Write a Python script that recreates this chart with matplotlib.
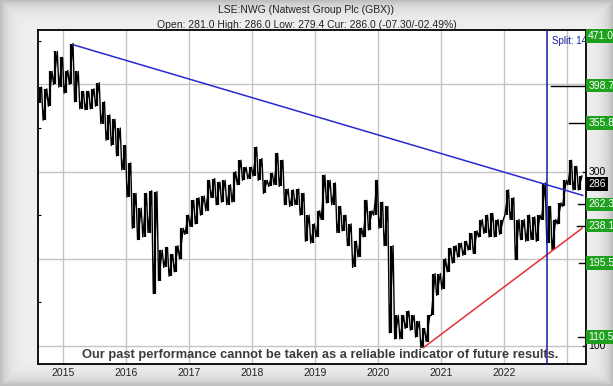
import numpy as np
import pandas as pd
import matplotlib
matplotlib.use("Agg")
import matplotlib.pyplot as plt

# monthly price range (GBX), Aug 2014 .. Mar 2023
months = pd.date_range("2014-08-01", periods=104, freq="MS")
lows = [379, 359, 375, 400, 397,
        390, 400, 380, 372, 371, 372, 375, 355, 336, 330, 318, 302,
        271, 235, 222, 225, 230, 160, 175, 190, 180, 185, 200, 228,
        237, 240, 250, 255, 270, 262, 265, 262, 265, 285, 290, 292,
        295, 290, 275, 283, 285, 283, 262, 260, 262, 250, 220, 218,
        225, 245, 264, 262, 230, 232, 215, 190, 202, 225, 233, 250,
        235, 215, 115, 108, 108, 120, 118, 110, 98, 105, 135, 158,
        165, 185, 195, 202, 204, 210, 206, 225, 229, 225, 225, 228,
        250, 245, 199, 222, 220, 222, 220, 245, 218, 210, 240, 260,
        285, 279, 279]
highs = [397, 395, 415, 438, 431,
         416, 447, 415, 392, 392, 395, 402, 380, 365, 360, 350, 330,
         310, 275, 258, 275, 278, 277, 210, 213, 205, 215, 235, 250,
         267, 270, 272, 290, 292, 288, 290, 285, 300, 313, 305, 305,
         328, 315, 290, 298, 321, 313, 280, 279, 280, 275, 250, 240,
         255, 296, 290, 287, 260, 250, 240, 220, 235, 267, 255, 290,
         265, 260, 215, 135, 135, 140, 135, 128, 120, 135, 183, 183,
         200, 212, 215, 218, 220, 229, 232, 245, 250, 252, 245, 245,
         279, 270, 245, 245, 250, 248, 250, 287, 260, 245, 264, 290,
         313, 306, 295]

# trend lines (decimal year, price)
blue_x = [2015.16, 2023.25]
blue_y = [445.5, 272.7]
red_x = [2020.72, 2023.24]
red_y = [98.0, 235.0]
split_x = 2022.68

# right hand price levels
green_levels = ["471.0", "398.7", "355.8", "262.3", "238.1", "195.5", "110.5"]
green_pos = [456.0, 398.7, 355.8, 262.3, 238.1, 195.5, 110.5]
tick_levels = [398.7, 355.8, 300, 262.3, 238.1, 195.5, 110.5, 100]
tick_start = [0.936, 0.969, 0.994, 0.985, 0.984, 0.987, 0.985, 0.994]

years = list(range(2015, 2024))
year_labels = [str(y) for y in years[:-1]] + [""]

W, H = 613, 386
fig = plt.figure(figsize=(W / 100, H / 100), dpi=100)

# grey frame with darker edges
bg = fig.add_axes([0, 0, 1, 1], zorder=-10)
yy, xx = np.mgrid[0:H, 0:W]
d = np.minimum(np.minimum(xx, W - 1 - xx), np.minimum(yy, H - 1 - yy))
shade = 0.94 - 0.2 * np.exp(-d / 8.0)
bg.imshow(shade, cmap="gray", vmin=0, vmax=1, aspect="auto")
bg.axis("off")

ax = fig.add_axes([0.0625, 0.0565, 0.8935, 0.8660])
ax.set_facecolor("white")
ax.set_xlim(2014.603, 2023.302)
ax.set_ylim(79.0, 462.6)

# price: one bar per month plus a zigzag through lows and highs
t = np.asarray(months.year + (months.month - 1) / 12.0, dtype=float)
ax.vlines(t + 0.5 / 12, lows, highs, color="black", lw=1.6, zorder=3)
xs = np.ravel(np.column_stack([t + 0.15 / 12, t + 0.85 / 12]))
ys = np.ravel(np.column_stack([lows, highs]))
ax.plot(xs, ys, color="black", lw=1.0, zorder=3)

ax.plot(blue_x, blue_y, color="#2a2ad0", lw=1.1, zorder=4)
ax.plot(red_x, red_y, color="#e83030", lw=1.1, zorder=4)
ax.axvline(split_x, color="#1a1aa8", lw=1.1, zorder=4)
ax.text(2022.757, 450.3, "Split: 14-for-13", color="#1a1aa8", fontsize=7,
        family="Liberation Sans", va="center", ha="left", clip_on=True, zorder=2)

ax.set_xticks(years)
ax.set_xticklabels(year_labels, fontsize=7.5, family="Liberation Sans", color="#222222")
ax.tick_params(axis="x", length=0, pad=2.5)
ax.set_yticks([100, 200, 300, 400])
ax.set_yticklabels([])
ax.tick_params(axis="y", length=0)
ax.set_yticks(np.arange(100, 451, 50), minor=True)
ax.tick_params(axis="y", which="minor", direction="in", length=2.5, width=0.8)
ax.grid(True, color="#c4c4c4", lw=1.0, zorder=0)
ax.set_axisbelow(True)
for s in ax.spines.values():
    s.set_color("black")
    s.set_linewidth(1.3)

ytr = ax.get_yaxis_transform()
for lv, x0 in zip(tick_levels, tick_start):
    ax.plot([x0, 1.0], [lv, lv], color="black", lw=1.0, transform=ytr, zorder=5)

lab = dict(transform=ytr, ha="left", va="center", fontsize=7.5,
           family="Liberation Sans", clip_on=False)
ax.text(1.004, 99.5, "100", color="black", zorder=6, **lab)
ax.text(1.004, 300, "300", color="black", zorder=6, **lab)
for txt, pos in zip(green_levels, green_pos):
    ax.text(1.004, pos, txt, color="white", zorder=7,
            bbox=dict(boxstyle="square,pad=0.18", fc="#1fa01f", ec="none"), **lab)
ax.text(1.004, 286, "286", color="white", zorder=7,
        bbox=dict(boxstyle="square,pad=0.18", fc="black", ec="none"), **lab)

fig.text(0.5, 1 - 10 / H, "LSE:NWG (Natwest Group Plc (GBX))", ha="center", va="center",
         fontsize=7.5, family="Liberation Sans", color="#222222")
fig.text(0.5, 1 - 25 / H, "Open: 281.0 High: 286.0 Low: 279.4 Cur: 286.0 (-07.30/-02.49%)",
         ha="center", va="center", fontsize=7.5, family="Liberation Sans", color="#222222")

ax.text(0.514, 0.026, "Our past performance cannot be taken as a reliable indicator of future results.",
        transform=ax.transAxes, ha="center", va="center", fontsize=9.3, fontweight="bold",
        family="Liberation Sans", color="#3c3c3c", zorder=8)

fig.savefig("out.png", dpi=100)
